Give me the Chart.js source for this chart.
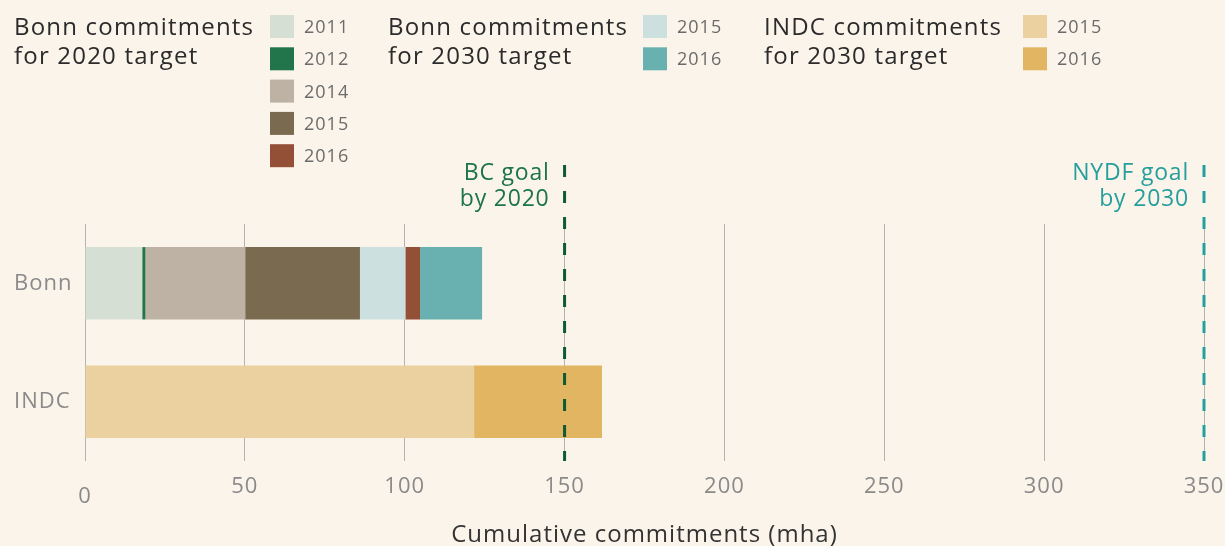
<!DOCTYPE html>
<html>
<head>
<meta charset="utf-8">
<script src="https://cdn.jsdelivr.net/npm/chart.js@4"></script>
<style>
  html, body { margin: 0; padding: 0; background: #fbf4ea; }
  #wrap { position: relative; width: 1225px; height: 546px; }
</style>
</head>
<body>
<div id="wrap"><canvas id="commitments"></canvas></div>
<script>
    "use strict";

    // Data
    var categories = ["Bonn", "INDC"];
    var xTicks = [0, 50, 100, 150, 200, 250, 300, 350];

    var bonn2020_2011 = [17.9, 0];
    var bonn2020_2012 = [1.0, 0];
    var bonn2020_2014 = [31.2, 0];
    var bonn2020_2015 = [35.9, 0];
    var bonn2030_2015 = [14.2, 0];
    var bonn2020_2016 = [4.6, 0];
    var bonn2030_2016 = [19.4, 0];
    var indc2030_2015 = [0, 121.7];
    var indc2030_2016 = [0, 40.0];

    var goalValues = [150, 350];
    var goalLabels = [["BC goal", "by 2020"], ["NYDF goal", "by 2030"]];

    var groupTitles = [
        ["Bonn commitments", "for 2020 target"],
        ["Bonn commitments", "for 2030 target"],
        ["INDC commitments", "for 2030 target"]
    ];

    // Colours
    var colors = {
        b20_2011: "#d6dfd4",
        b20_2012: "#22744a",
        b20_2014: "#beb2a4",
        b20_2015: "#7a6a4f",
        b20_2016: "#944f37",
        b30_2015: "#cde0e0",
        b30_2016: "#68b1b0",
        in_2015: "#ecd1a0",
        in_2016: "#e1b562"
    };
    var goalColors = ["#0d5a33", "#259f9c"];
    var goalTextColors = ["#1c7448", "#259f9c"];
    var tickColor = "#8a8a8a";
    var bg = "#fbf4ea";
    var fontFamily = "'Open Sans', Lato, sans-serif";

    // Legend groups (year label + swatch colour)
    var legendGroups = [
        { years: ["2011", "2012", "2014", "2015", "2016"],
          colors: [colors.b20_2011, colors.b20_2012, colors.b20_2014, colors.b20_2015, colors.b20_2016],
          titleX: 14, swatchX: 270 },
        { years: ["2015", "2016"],
          colors: [colors.b30_2015, colors.b30_2016],
          titleX: 388, swatchX: 643 },
        { years: ["2015", "2016"],
          colors: [colors.in_2015, colors.in_2016],
          titleX: 764, swatchX: 1023 }
    ];

    function ds(label, data, color) {
        return {
            label: label,
            data: data,
            backgroundColor: color,
            borderWidth: 0,
            barPercentage: 0.61,
            categoryPercentage: 1.0
        };
    }

    // Background + legend
    var legendPlugin = {
        id: "legendPlugin",
        beforeDraw: function (chart) {
            var ctx = chart.ctx;
            ctx.letterSpacing = "1px";
            ctx.save();
            ctx.fillStyle = bg;
            ctx.fillRect(0, 0, chart.width, chart.height);

            legendGroups.forEach(function (g, gi) {
                ctx.fillStyle = "#2b2b2b";
                ctx.font = "24px " + fontFamily;
                ctx.letterSpacing = "1.2px";
                ctx.textAlign = "left";
                ctx.textBaseline = "alphabetic";
                ctx.fillText(groupTitles[gi][0], g.titleX, 35);
                ctx.fillText(groupTitles[gi][1], g.titleX, 64);

                g.years.forEach(function (y, i) {
                    var top = 15 + i * 32.3;
                    ctx.fillStyle = g.colors[i];
                    ctx.fillRect(g.swatchX, top, 24, 23);
                    ctx.fillStyle = "#6b6b6b";
                    ctx.font = "18px " + fontFamily;
                    ctx.letterSpacing = "1px";
                    ctx.textBaseline = "middle";
                    ctx.fillText(y, g.swatchX + 34, top + 13);
                    ctx.textBaseline = "alphabetic";
                });
            });
            ctx.restore();
        }
    };

    // Goal lines, plus the dropped "0" tick label
    var goalPlugin = {
        id: "goalPlugin",
        afterDatasetsDraw: function (chart) {
            var ctx = chart.ctx;
            var xs = chart.scales.x;
            var area = chart.chartArea;
            ctx.save();
            goalValues.forEach(function (v, i) {
                var x = xs.getPixelForValue(v);
                ctx.strokeStyle = goalColors[i];
                ctx.lineWidth = 3;
                ctx.setLineDash([12, 14]);
                ctx.beginPath();
                ctx.moveTo(x, 165);
                ctx.lineTo(x, area.bottom);
                ctx.stroke();

                ctx.setLineDash([]);
                ctx.fillStyle = goalTextColors[i];
                ctx.font = "23px " + fontFamily;
                ctx.letterSpacing = "0.8px";
                ctx.textAlign = "right";
                ctx.textBaseline = "alphabetic";
                ctx.fillText(goalLabels[i][0], x - 15, 180);
                ctx.fillText(goalLabels[i][1], x - 15, 206);
            });

            ctx.fillStyle = tickColor;
            ctx.font = "22px " + fontFamily;
            ctx.letterSpacing = "1px";
            ctx.textAlign = "center";
            ctx.fillText(String(xTicks[0]), xs.getPixelForValue(xTicks[0]), 503);
            ctx.restore();
        }
    };

    new Chart(document.getElementById("commitments"), {
        type: "bar",
        data: {
            labels: categories,
            datasets: [
                ds("Bonn 2020 - 2011", bonn2020_2011, colors.b20_2011),
                ds("Bonn 2020 - 2012", bonn2020_2012, colors.b20_2012),
                ds("Bonn 2020 - 2014", bonn2020_2014, colors.b20_2014),
                ds("Bonn 2020 - 2015", bonn2020_2015, colors.b20_2015),
                ds("Bonn 2030 - 2015", bonn2030_2015, colors.b30_2015),
                ds("Bonn 2020 - 2016", bonn2020_2016, colors.b20_2016),
                ds("Bonn 2030 - 2016", bonn2030_2016, colors.b30_2016),
                ds("INDC 2030 - 2015", indc2030_2015, colors.in_2015),
                ds("INDC 2030 - 2016", indc2030_2016, colors.in_2016)
            ]
        },
        options: {
            indexAxis: "y",
            responsive: true,
            maintainAspectRatio: false,
            animation: false,
            layout: { padding: { top: 224, left: 14, right: 21, bottom: 0 } },
            plugins: {
                legend: { display: false },
                tooltip: { enabled: false }
            },
            scales: {
                x: {
                    stacked: true,
                    min: 0,
                    max: 350,
                    afterBuildTicks: function (scale) {
                        scale.ticks = xTicks.map(function (v) { return { value: v }; });
                    },
                    afterFit: function (scale) {
                        scale.height = 85;
                        scale.paddingRight = 0;
                    },
                    grid: { color: "#b3b3b3", lineWidth: 1, drawTicks: false },
                    border: { display: false },
                    ticks: {
                        color: tickColor,
                        font: { family: fontFamily, size: 22 },
                        padding: 13,
                        maxRotation: 0,
                        // the 0 label sits lower in the original; drawn by goalPlugin
                        callback: function (v) { return v === 0 ? "" : String(v); }
                    },
                    title: {
                        display: true,
                        text: "Cumulative commitments (mha)",
                        color: "#333333",
                        font: { family: fontFamily, size: 24 },
                        padding: { top: 0, bottom: -4 }
                    }
                },
                y: {
                    stacked: true,
                    afterFit: function (scale) { scale.width = 71; },
                    grid: { display: false },
                    border: { display: false },
                    ticks: {
                        color: tickColor,
                        font: { family: fontFamily, size: 22 },
                        crossAlign: "far"
                    }
                }
            }
        },
        plugins: [legendPlugin, goalPlugin]
    });
</script>
</body>
</html>
